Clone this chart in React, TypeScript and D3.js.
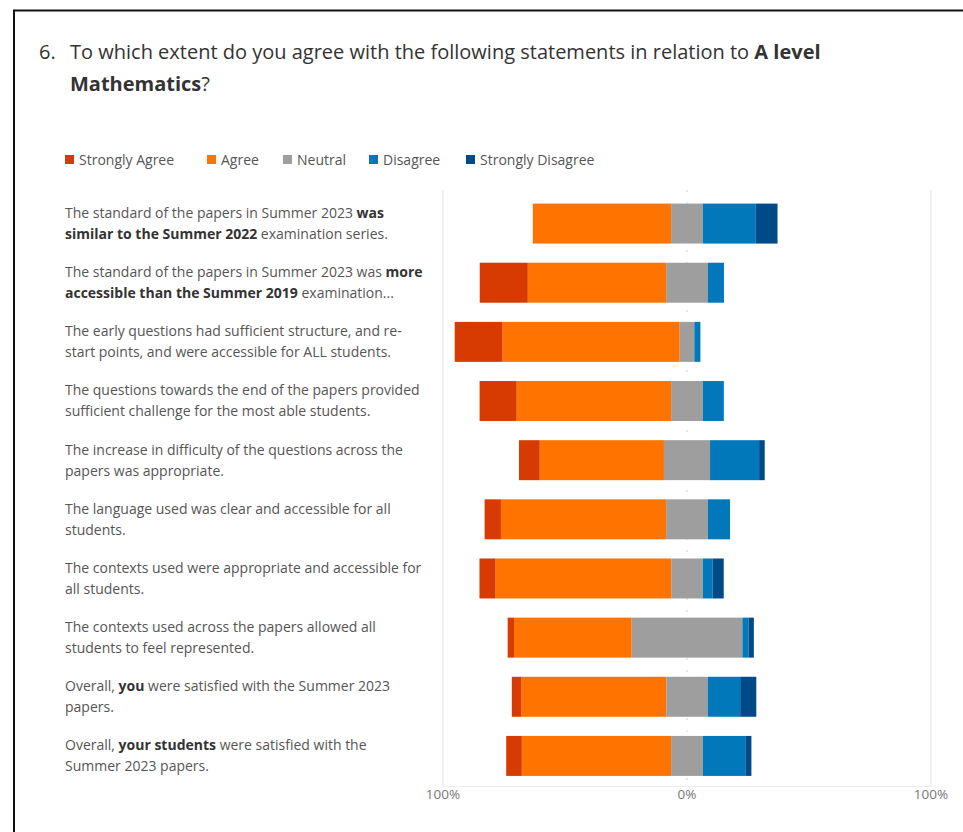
import React from "react";
import * as d3 from "d3";

const categories: { text: string; bold?: boolean }[][][] = [
  [
    [{ text: "The standard of the papers in Summer 2023 " }, { text: "was", bold: true }],
    [{ text: "similar to the Summer 2022", bold: true }, { text: " examination series." }],
  ],
  [
    [{ text: "The standard of the papers in Summer 2023 was " }, { text: "more", bold: true }],
    [{ text: "accessible than the Summer 2019", bold: true }, { text: " examination..." }],
  ],
  [
    [{ text: "The early questions had sufficient structure, and re-" }],
    [{ text: "start points, and were accessible for ALL students." }],
  ],
  [
    [{ text: "The questions towards the end of the papers provided" }],
    [{ text: "sufficient challenge for the most able students." }],
  ],
  [
    [{ text: "The increase in difficulty of the questions across the" }],
    [{ text: "papers was appropriate." }],
  ],
  [
    [{ text: "The language used was clear and accessible for all" }],
    [{ text: "students." }],
  ],
  [
    [{ text: "The contexts used were appropriate and accessible for" }],
    [{ text: "all students." }],
  ],
  [
    [{ text: "The contexts used across the papers allowed all" }],
    [{ text: "students to feel represented." }],
  ],
  [
    [{ text: "Overall, " }, { text: "you", bold: true }, { text: " were satisfied with the Summer 2023" }],
    [{ text: "papers." }],
  ],
  [
    [{ text: "Overall, " }, { text: "your students", bold: true }, { text: " were satisfied with the" }],
    [{ text: "Summer 2023 papers." }],
  ],
];

const seriesNames = ["Strongly Agree", "Agree", "Neutral", "Disagree", "Strongly Disagree"];
const seriesColors = ["#D83B01", "#FF7300", "#9E9E9E", "#0078BA", "#004B87"];

const stronglyAgree = [0, 19.7, 19.6, 15.2, 8.5, 6.7, 6.6, 2.6, 3.8, 6.4];
const agree = [56.7, 56.7, 72.6, 63.3, 50.9, 67.7, 72.0, 48.2, 59.5, 61.2];
const neutral = [13.0, 17.1, 6.0, 13.0, 18.9, 17.1, 12.9, 45.4, 17.0, 13.0];
const disagree = [21.7, 6.6, 2.5, 8.6, 20.1, 9.1, 4.1, 2.5, 13.3, 17.4];
const stronglyDisagree = [8.9, 0, 0, 0, 2.3, 0, 4.5, 2.2, 6.6, 2.5];

const tickValues = [-100, 0, 100];
const tickLabels = ["100%", "0%", "100%"];

const FONT = "'Open Sans', 'Noto Sans', sans-serif";

export default function App() {
  const x = d3.scaleLinear().domain([-100, 100]).range([443, 931]);
  const idx = d3.range(categories.length);
  const y = d3
    .scaleBand<number>()
    .domain(idx)
    .range([194, 785.5])
    .paddingInner(0.324)
    .paddingOuter(0.162);

  const segs: { i: number; s: number; x0: number; x1: number }[] = [];
  idx.forEach((i) => {
    const half = neutral[i] / 2;
    let l = -half;
    segs.push({ i, s: 2, x0: -half, x1: half });
    segs.push({ i, s: 1, x0: l - agree[i], x1: l });
    l -= agree[i];
    segs.push({ i, s: 0, x0: l - stronglyAgree[i], x1: l });
    let r = half;
    segs.push({ i, s: 3, x0: r, x1: r + disagree[i] });
    r += disagree[i];
    segs.push({ i, s: 4, x0: r, x1: r + stronglyDisagree[i] });
  });

  const legendX = [65, 207, 283, 369, 466];

  return (
    <svg
      width={963}
      height={832}
      style={{ position: "absolute", left: 0, top: 0, background: "#fff" }}
      fontFamily={FONT}
    >
      <rect x={0} y={0} width={963} height={832} fill="#fff" />
      {/* frame */}
      <line x1={13} y1={10.5} x2={963} y2={10.5} stroke="#111" strokeWidth={2} />
      <line x1={14} y1={10} x2={14} y2={832} stroke="#111" strokeWidth={2} />

      {/* title */}
      <text x={39} y={59} fontSize={20} fill="#333">6.</text>
      <text x={70} y={59} fontSize={20} fill="#333">
        To which extent do you agree with the following statements in relation to{" "}
        <tspan fontWeight="bold">A level</tspan>
      </text>
      <text x={70} y={91} fontSize={20} fill="#333">
        <tspan fontWeight="bold">Mathematics</tspan>?
      </text>

      {/* legend */}
      {seriesNames.map((n, k) => (
        <g key={n} transform={`translate(${legendX[k]},160)`}>
          <rect x={0} y={-5} width={9} height={9} fill={seriesColors[k]} />
          <text x={14} y={0} dy="0.35em" fontSize={14} fill="#555">
            {n}
          </text>
        </g>
      ))}

      {/* gridlines */}
      {tickValues.map((t, k) => (
        <line
          key={k}
          x1={x(t)}
          x2={x(t)}
          y1={190}
          y2={786}
          stroke={t === 0 ? "#e2e2e2" : "#ececec"}
          strokeWidth={1.5}
          strokeDasharray={t === 0 ? "2,10" : undefined}
        />
      ))}
      <line x1={x(-100)} x2={x(100)} y1={786.5} y2={786.5} stroke="#ececec" strokeWidth={1} />

      {/* bars */}
      {segs
        .filter((d) => d.x1 - d.x0 > 0)
        .map((d, k) => (
          <rect
            key={k}
            x={x(d.x0)}
            y={y(d.i)}
            width={x(d.x1) - x(d.x0)}
            height={y.bandwidth()}
            fill={seriesColors[d.s]}
          />
        ))}

      {/* category labels */}
      {categories.map((lines, i) => {
        const cy = (y(i) as number) + y.bandwidth() / 2;
        return (
          <text key={i} x={65} fontSize={14} fill="#555">
            {lines.map((line, li) => (
              <tspan key={li} x={65} y={cy - 10.5 + li * 21} dy="0.35em">
                {line.map((seg, si) => (
                  <tspan key={si} fontWeight={seg.bold ? "bold" : "normal"} fill={seg.bold ? "#333" : "#555"}>
                    {seg.text}
                  </tspan>
                ))}
              </tspan>
            ))}
          </text>
        );
      })}

      {/* axis labels */}
      {tickValues.map((t, k) => (
        <text key={k} x={x(t)} y={794} dy="0.35em" textAnchor="middle" fontSize={13.5} fill="#777">
          {tickLabels[k]}
        </text>
      ))}
    </svg>
  );
}
